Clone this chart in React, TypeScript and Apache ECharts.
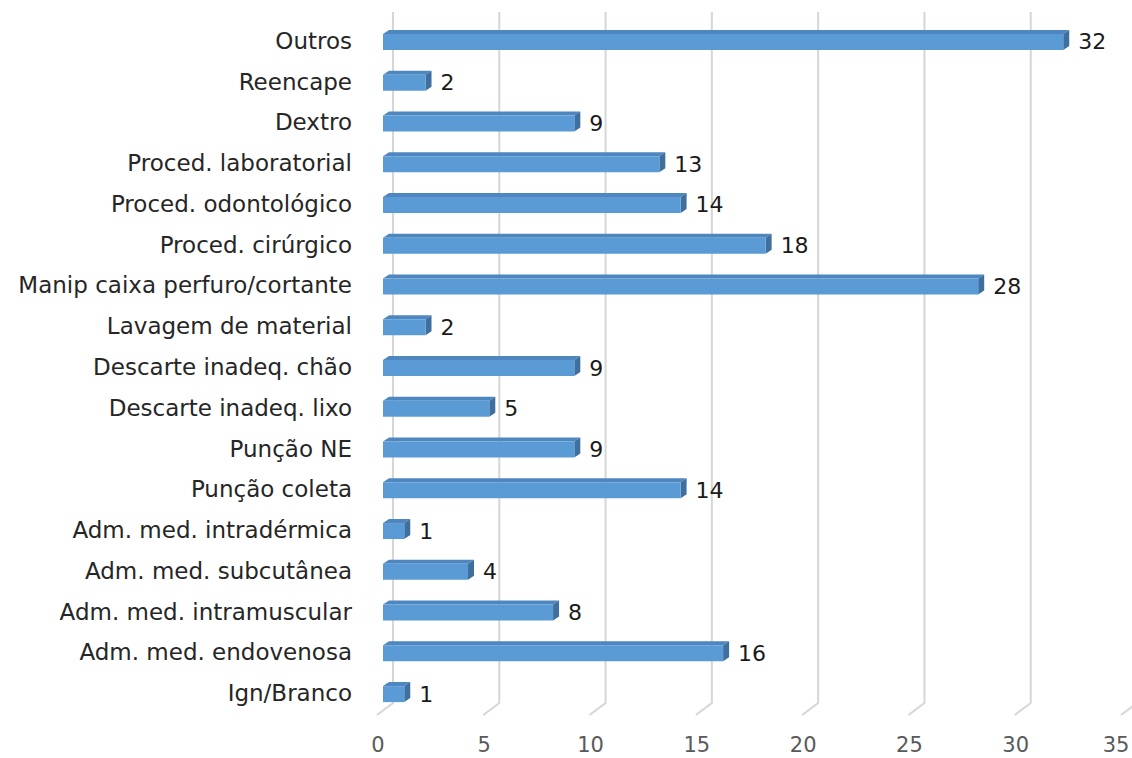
import React, { useEffect, useRef } from "react";
import * as echarts from "echarts";

const categories = [
  "Outros",
  "Reencape",
  "Dextro",
  "Proced. laboratorial",
  "Proced. odontológico",
  "Proced. cirúrgico",
  "Manip caixa perfuro/cortante",
  "Lavagem de material",
  "Descarte inadeq. chão",
  "Descarte inadeq. lixo",
  "Punção NE",
  "Punção coleta",
  "Adm. med. intradérmica",
  "Adm. med. subcutânea",
  "Adm. med. intramuscular",
  "Adm. med. endovenosa",
  "Ign/Branco",
];
const values = [32, 2, 9, 13, 14, 18, 28, 2, 9, 5, 9, 14, 1, 4, 8, 16, 1];
const gridTicks = [0, 5, 10, 15, 20, 25, 30, 35];

const FONT = "'DejaVu Sans', sans-serif";
const FS = 23;

export default function App() {
  const ref = useRef<HTMLDivElement>(null);
  useEffect(() => {
    const chart = echarts.init(ref.current!, undefined, { renderer: "svg" });
    chart.setOption({
      animation: false,
      backgroundColor: "#ffffff",
      grid: {
        left: 383,
        right: 5,
        top: 20.5,
        bottom: 44.5,
        containLabel: false,
        outerBoundsMode: "none",
      },
      xAxis: {
        type: "value",
        min: 0,
        max: 35,
        interval: 5,
        axisLine: { show: false },
        axisTick: { show: false },
        splitLine: { show: false },
        axisLabel: { show: false },
      },
      yAxis: {
        type: "category",
        inverse: true,
        data: categories,
        axisLine: { show: false },
        axisTick: { show: false },
        axisLabel: { color: "#262626", fontSize: FS, fontFamily: FONT, margin: 31 },
      },
      series: [
        {
          type: "custom",
          silent: true,
          clip: false,
          data: gridTicks.map((t) => [t]),
          encode: { x: 0 },
          renderItem: (params: any, api: any) => {
            const v = api.value(0);
            const x = api.coord([v, 0])[0];
            const yTop = 12;
            const yBack = 703;
            const yFront = 715;
            return {
              type: "group",
              children: [
                {
                  type: "polyline",
                  shape: {
                    points: [
                      [x + 10, yTop],
                      [x + 10, yBack],
                      [x - 6, yFront],
                    ],
                  },
                  style: { stroke: "#d6d6d6", lineWidth: 2, fill: null },
                },
                {
                  type: "text",
                  style: {
                    text: String(v),
                    x: Math.min(x - 5, 1116),
                    y: 745,
                    align: "center",
                    verticalAlign: "middle",
                    fill: "#595959",
                    fontSize: 21,
                    fontFamily: FONT,
                  },
                },
              ],
            };
          },
          z: 1,
        },
        {
          type: "custom",
          silent: true,
          data: values.map((v, i) => [v, i]),
          encode: { x: 0, y: 1 },
          renderItem: (params: any, api: any) => {
            const v = api.value(0);
            const i = api.value(1);
            const p0 = api.coord([0, i]);
            const p1 = api.coord([v, i]);
            const h = 16;
            const dx = 6;
            const dy = 4;
            const x0 = p0[0];
            const x1 = p1[0];
            const yT = p0[1] - h / 2 + 1;
            const yB = yT + h;
            return {
              type: "group",
              children: [
                {
                  type: "polygon",
                  shape: { points: [[x0, yT], [x1, yT], [x1 + dx, yT - dy], [x0 + dx, yT - dy]] },
                  style: { fill: "#4e86bf" },
                },
                {
                  type: "polygon",
                  shape: { points: [[x1, yT], [x1 + dx, yT - dy], [x1 + dx, yB - dy], [x1, yB]] },
                  style: { fill: "#3e6f9f" },
                },
                {
                  type: "rect",
                  shape: { x: x0, y: yT, width: x1 - x0, height: h },
                  style: { fill: "#5b9bd5" },
                },
                {
                  type: "text",
                  style: {
                    text: String(v),
                    x: x1 + 15,
                    y: yT + h / 2,
                    verticalAlign: "middle",
                    align: "left",
                    fill: "#1a1a1a",
                    fontSize: FS - 1,
                    fontFamily: FONT,
                  },
                },
              ],
            };
          },
          z: 2,
        },
      ],
    });
    return () => chart.dispose();
  }, []);
  return <div ref={ref} style={{ width: 1132, height: 758, position: "absolute", left: 0, top: 0 }} />;
}
